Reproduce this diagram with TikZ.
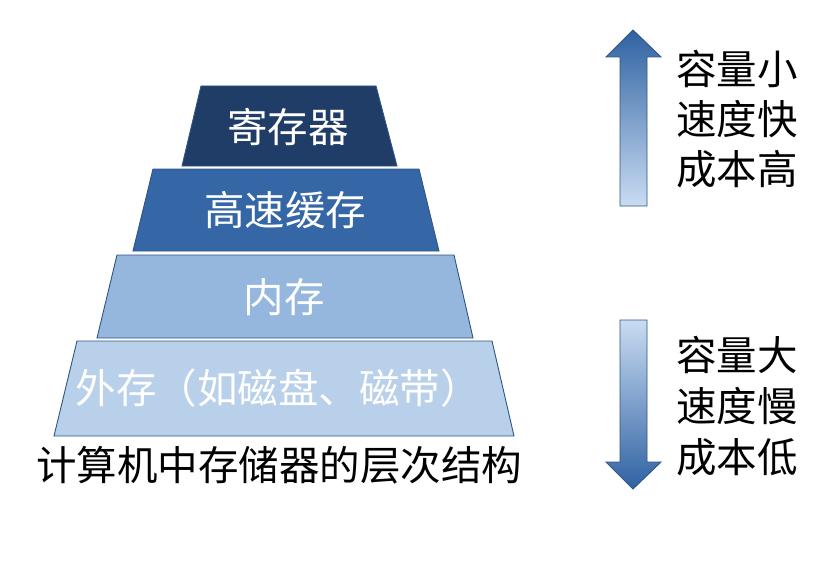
\documentclass[tikz,border=0pt]{standalone}
\usepackage{fontspec}
\newfontfamily\cjk{Noto Sans CJK SC}
\begin{document}
\begin{tikzpicture}[x=1pt,y=-1pt,
  every node/.style={inner sep=0pt,font=\cjk\fontsize{40.5}{48}\selectfont},
  layer/.style={draw=edgeblue,line width=0.9pt},
  wtext/.style={text=white},
  ktext/.style={text=black,anchor=west},
  arrowshape/.style={draw=edgeblue,line width=0.9pt}]
\definecolor{edgeblue}{HTML}{2F5587}
\definecolor{lone}{HTML}{1F3D66}
\definecolor{ltwo}{HTML}{3567A6}
\definecolor{lthree}{HTML}{95B7DD}
\definecolor{lfour}{HTML}{B9D0EA}
\definecolor{adark}{HTML}{2F62A2}
\definecolor{alight}{HTML}{C9DCF2}
\useasboundingbox (0,0) rectangle (835,567);
\fill[white] (0,0) rectangle (835,567);
% pyramid layers
\filldraw[layer,fill=lone] (201,86) -- (376,86) -- (397,166) -- (182,166) -- cycle;
\filldraw[layer,fill=ltwo] (153,169) -- (419,169) -- (439,251) -- (133,251) -- cycle;
\filldraw[layer,fill=lthree] (117,255) -- (454,255) -- (473,338) -- (97,338) -- cycle;
\filldraw[layer,fill=lfour] (77,341) -- (492,341) -- (514,436) -- (54,436) -- cycle;
\node[wtext] (reg) at (288,127) {寄存器};
\node[wtext] (cache) at (285,210) {高速缓存};
\node[wtext] (mem) at (284,297) {内存};
\node[wtext] (ext) at (278,388) {外存（如磁盘、磁带）};
\node (cap) at (279,465) {计算机中存储器的层次结构};
% up arrow
\shadedraw[arrowshape,top color=adark,bottom color=alight]
  (633,30) -- (661,57) -- (647,57) -- (647,206) -- (620,206) -- (620,57) -- (606,57) -- cycle;
% down arrow
\shadedraw[arrowshape,top color=alight,bottom color=adark]
  (620,320) -- (647,320) -- (647,462) -- (661,462) -- (633,489) -- (606,462) -- (620,462) -- cycle;
\node[ktext] (u1) at (676,69) {容量小};
\node[ktext] (u2) at (676,119) {速度快};
\node[ktext] (u3) at (676,169) {成本高};
\node[ktext] (d1) at (676,355) {容量大};
\node[ktext] (d2) at (676,406) {速度慢};
\node[ktext] (d3) at (676,457) {成本低};
\end{tikzpicture}
\end{document}
